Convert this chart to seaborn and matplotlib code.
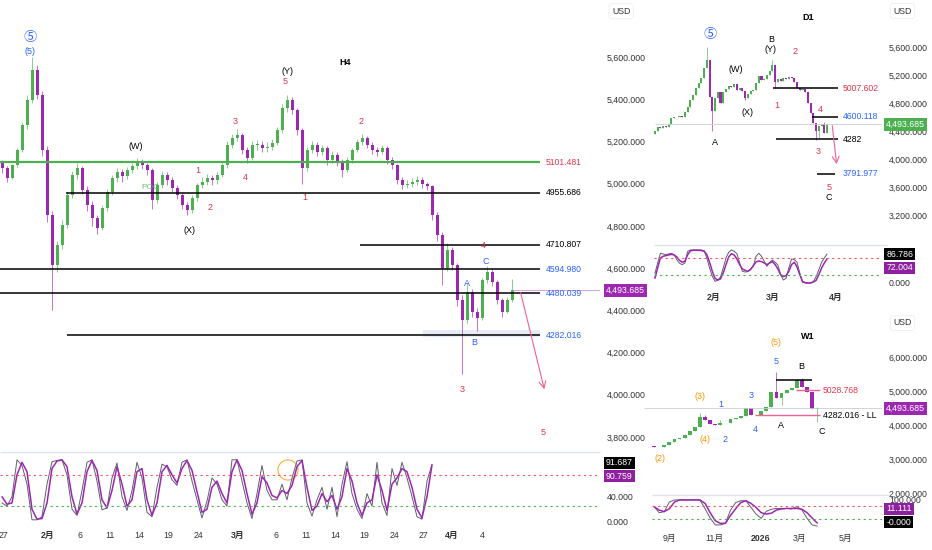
import numpy as np
import pandas as pd
import seaborn as sns
import matplotlib.pyplot as plt
from matplotlib.transforms import blended_transform_factory

# ---- H4 (main) ----
h4_close = [5074, 5027, 5088, 5159, 5278, 5396, 5538, 5420, 5159, 4852,
            4615, 4709, 4804, 4946, 5041, 5074, 4970, 4899, 4837, 4790,
            4885, 4960, 5027, 5055, 5036, 5065, 5084, 5098, 5088, 5065,
            4923, 4994, 5041, 5017, 4979, 4946, 4899, 4875, 4932, 4994,
            5008, 5027, 5017, 5041, 5088, 5183, 5216, 5230, 5159, 5122,
            5183, 5183, 5169, 5174, 5193, 5254, 5358, 5396, 5349, 5254,
            5074, 5159, 5183, 5150, 5169, 5112, 5136, 5103, 5065, 5112,
            5159, 5197, 5216, 5183, 5159, 5150, 5169, 5112, 5088, 5017,
            4994, 4998, 5008, 5017, 4998, 4989, 4852, 4757, 4600, 4686,
            4615, 4449, 4354, 4487, 4392, 4364, 4544, 4582, 4534, 4449,
            4392, 4449, 4493.685]
h4_high = [5110, 5085, 5095, 5170, 5290, 5420, 5600, 5560, 5440, 5180,
           4870, 4730, 4830, 4960, 5060, 5100, 5085, 4990, 4920, 4850,
           4900, 4975, 5040, 5075, 5070, 5080, 5100, 5120, 5115, 5100,
           5075, 5010, 5060, 5055, 5030, 4995, 4960, 4915, 4945, 5005,
           5030, 5045, 5040, 5055, 5100, 5200, 5235, 5260, 5240, 5175,
           5200, 5205, 5200, 5195, 5210, 5270, 5375, 5420, 5410, 5360,
           5265, 5175, 5200, 5195, 5185, 5180, 5155, 5150, 5115, 5125,
           5170, 5210, 5235, 5225, 5195, 5175, 5185, 5180, 5125, 5095,
           5030, 5015, 5025, 5035, 5030, 5010, 4995, 4865, 4770, 4720,
           4700, 4625, 4470, 4530, 4500, 4410, 4555, 4610, 4595, 4545,
           4460, 4465, 4550]
h4_low = [5050, 5010, 5020, 5080, 5150, 5260, 5380, 5400, 5130, 4820,
          4400, 4580, 4690, 4790, 4930, 5020, 4950, 4870, 4800, 4760,
          4780, 4870, 4945, 5010, 5010, 5020, 5050, 5070, 5070, 5040,
          4880, 4910, 4980, 4995, 4960, 4925, 4880, 4850, 4860, 4920,
          4980, 4995, 4995, 5000, 5030, 5075, 5170, 5200, 5140, 5100,
          5110, 5160, 5150, 5150, 5160, 5185, 5240, 5340, 5330, 5230,
          5000, 5060, 5145, 5130, 5135, 5090, 5100, 5085, 5030, 5055,
          5100, 5150, 5185, 5170, 5140, 5130, 5140, 5095, 5070, 5000,
          4975, 4980, 4985, 4995, 4980, 4970, 4830, 4730, 4520, 4585,
          4590, 4420, 4100, 4340, 4370, 4300, 4355, 4530, 4515, 4430,
          4370, 4385, 4440]
h4_open0 = 5100
h4_stoch_k = [30, 25, 40, 99, 90, 60, 3, 3, 8, 60, 96, 98, 99, 75, 20, 10, 50, 95, 99, 65,
              19, 22, 70, 94, 40, 18, 50, 95, 70, 15, 8, 55, 92, 88, 67, 58, 95, 99, 65, 35,
              6, 33, 70, 60, 35, 25, 99, 99, 65, 30, 5, 45, 90, 50, 35, 35, 60, 35, 70, 97,
              99, 30, 9, 35, 55, 20, 55, 8, 60, 96, 45, 20, 5, 45, 25, 95, 30, 10, 85, 58,
              95, 70, 40, 8, 4, 65, 91.687]
h4_stoch_d = [40, 28, 30, 75, 95, 80, 20, 4, 5, 30, 85, 97, 99, 88, 40, 12, 30, 80, 98, 82,
              35, 22, 50, 88, 60, 25, 35, 80, 85, 35, 10, 30, 80, 90, 75, 62, 85, 98, 82, 48,
              15, 20, 55, 65, 45, 30, 80, 99, 82, 45, 12, 30, 72, 62, 42, 38, 50, 45, 58, 88,
              98, 55, 18, 25, 45, 32, 42, 20, 40, 85, 65, 30, 10, 30, 35, 75, 50, 18, 60, 70,
              85, 80, 55, 20, 6, 40, 90.759]
h4_date_pos = [0.2, 9.2, 15.6, 21.6, 27.4, 33.2, 39.2, 47.2, 54.8, 60.8, 66.6, 72.4, 78.4, 84.2, 90, 96]
h4_date_lab = ["27", "2月", "6", "11", "14", "19", "24", "3月", "6", "11", "14", "19", "24", "27", "4月", "4"]
h4_levels = [5101.481, 4955.686, 4710.807, 4594.980, 4480.039, 4282.016]

# ---- D1 ----
d1_close = [4400, 4453, 4440, 4471, 4460, 4500, 4581, 4605, 4595, 4614,
            4595, 4676, 4748, 4843, 4914, 5010, 5081, 5152, 5295, 5420,
            4890, 4680, 4870, 4962, 4800, 4960, 4995, 5043, 5024, 5071,
            4986, 5010, 4976, 4867, 4929, 4976, 4986, 5081, 5186, 5129,
            5143, 5200, 5262, 5343, 5105, 5138, 5119, 5152, 5138, 5167,
            5152, 5105, 5010, 4986, 4995, 4962, 4796, 4652, 4510, 4400,
            4471, 4500, 4367, 4493.685]
d1_open0 = 4350
d1_wicks = {19: (5595, None), 21: (None, 4400), 33: (None, 4840), 43: (5420, None),
            44: (None, 5010), 59: (None, 4271), 60: (None, 4300), 62: (4530, None)}
d1_stoch_k = [29, 60, 89, 87, 85, 87, 89, 85, 70, 59, 55, 60, 95, 99, 99, 99, 99, 99, 97, 75,
              45, 20, 5, 8, 18, 45, 75, 92, 99, 95, 88, 60, 35, 33, 34, 42, 50, 80, 89, 80,
              65, 50, 62, 69, 62, 54, 25, 9, 14, 45, 72, 70, 62, 30, 2, 0, 0, 0, 5, 19,
              40, 62, 75, 86.786]
d1_stoch_d = [14, 45, 75, 80, 82, 84, 86, 84, 78, 68, 62, 66, 85, 96, 98, 98, 98, 97, 95, 85,
              62, 35, 14, 9, 12, 30, 55, 78, 88, 84, 72, 55, 42, 38, 35, 40, 52, 63, 66, 64,
              60, 55, 60, 64, 55, 42, 25, 19, 22, 35, 55, 62, 48, 25, 5, 1, 0, 0, 3, 8,
              25, 45, 60, 72.004]
d1_date_pos = [21.6, 43.2, 66.2]
d1_date_lab = ["2月", "3月", "4月"]

# ---- W1 ----
w1_close = [3344, 3353, 3412, 3510, 3590, 3627, 3706, 3824, 3951, 4226,
            4147, 4030, 4010, 4049, 4070, 4176, 4196, 4265, 4490, 4294,
            4300, 4420, 4540, 4980, 4784, 4931, 5029, 5078, 5330, 5127,
            4980, 4461, 4493.685]
w1_open0 = 3370
w1_wicks = {9: (4343, None), 10: (4290, None), 13: (4150, None), 20: (None, 4280),
            24: (5569, None), 25: (None, 4600), 29: (5373, None), 32: (4520, 4098)}
w1_stoch_k = [73, 50, 54, 90, 98, 98, 98, 98, 98, 98, 65, 30, 4, 4, 10, 60, 88, 95, 95, 70,
              45, 29, 55, 63, 66, 66, 66, 64, 73, 60, 29, 4, 0]
w1_stoch_d = [73, 60, 54, 65, 90, 98, 98, 98, 98, 98, 85, 50, 20, 10, 10, 40, 65, 88, 95, 85,
              70, 50, 45, 48, 60, 64, 66, 66, 66, 63, 50, 30, 11.111]
w1_date_pos = [3.1, 11.9, 20.9, 28.5, 37.5]
w1_date_lab = ["9月", "11月", "2026", "3月", "5月"]

UP, DOWN = "#4caf50", "#9c27b0"
RED, BLUE, ORANGE = "#e5334b", "#2962ff", "#ff9800"
K_COL, D_COL = "#5d606b", "#9c27b0"
TICK_FS = 6.3

sns.set_theme(style="white")
plt.rcParams["font.family"] = ["Liberation Sans", "Noto Sans CJK JP", "DejaVu Sans"]

W, H = 932, 550
fig = plt.figure(figsize=(W / 100, H / 100), dpi=100)


def box(l, t, r, b):
    return [l / W, 1 - b / H, (r - l) / W, (b - t) / H]


def draw_candles(ax, close, open0, width, high=None, low=None, wicks=None):
    df = pd.DataFrame({"c": close})
    df["o"] = [open0] + list(close[:-1])
    df["x"] = np.arange(len(df))
    top = df[["o", "c"]].max(axis=1)
    bot = df[["o", "c"]].min(axis=1)
    if high is None:
        high, low = top.copy(), bot.copy()
        for i, (hi, lo) in wicks.items():
            if hi is not None:
                high[i] = hi
            if lo is not None:
                low[i] = lo
    cols = np.where(df.c >= df.o, UP, DOWN)
    ax.vlines(df.x, low, high, colors=cols, linewidth=0.6, alpha=0.75)
    ax.bar(df.x, (top - bot).clip(lower=6), bottom=bot, width=width, color=cols, linewidth=0)


def style_axis(ax):
    for s in ax.spines.values():
        s.set_visible(False)
    ax.set_facecolor("none")
    ax.yaxis.tick_right()
    ax.tick_params(axis="y", length=0, pad=5, labelsize=TICK_FS, labelcolor="#333333")
    ax.tick_params(axis="x", length=0, labelsize=TICK_FS, labelcolor="#333333")


def price_fmt(vals):
    return [f"{v:,.3f}" for v in vals]


def value_tag(ax, yval, text, fc, xoff=1.01):
    tr = blended_transform_factory(ax.transAxes, ax.transData)
    ax.text(xoff, yval, text, transform=tr, fontsize=TICK_FS, color="white", va="center", ha="left",
            bbox=dict(boxstyle="square,pad=0.22", fc=fc, ec="none"), zorder=10)


def usd_tag(ax, x, y):
    ax.text(x, y, "USD", transform=ax.transAxes, fontsize=6.3, color="#333333", ha="left", va="center",
            bbox=dict(boxstyle="round,pad=0.35", fc="white", ec="#eeeeee", lw=0.6))


def stoch_panel(ax, k, d, lo, hi, x0, x1):
    x = np.arange(len(k))
    sns.lineplot(x=x, y=k, ax=ax, color=K_COL, linewidth=0.7)
    sns.lineplot(x=x, y=d, ax=ax, color=D_COL, linewidth=1.1)
    ax.hlines(75, x0, x1, color="#f7525f", lw=0.8, ls=(0, (2, 3)))
    ax.hlines(25, x0, x1, color="#4caf50", lw=0.8, ls=(0, (2, 3)))
    ax.hlines(hi, x0, x1, color="#e0e3eb", lw=1.0, clip_on=False)
    ax.set_ylim(lo, hi)


def label(ax, items, size=6.5):
    for t, x, y, c in items:
        fs = 9.5 if t == "⑤" else size
        fw = "bold" if t in ("H4", "D1", "W1") else "normal"
        ax.text(x, y, t, color=c, fontsize=fs, ha="center", va="center", fontweight=fw)


# ================= H4 main =================
ax = fig.add_axes(box(0, 0, 600, 450))
axs = fig.add_axes(box(0, 452, 600, 530), sharex=ax)
style_axis(ax)
style_axis(axs)
draw_candles(ax, h4_close, h4_open0, 0.6, high=h4_high, low=h4_low)
ax.set_xlim(-0.4, 119.6)
ax.set_ylim(3738, 5870)
ticks = list(range(3800, 5601, 200))
ax.set_yticks(ticks)
ax.set_yticklabels(price_fmt(ticks))
ax.tick_params(axis="x", labelbottom=False)

lvl_start = [-0.4, 12.8, 71.6, -0.4, -0.4, 13.0]
lvl_col = ["#4caf50", "black", "black", "black", "black", "black"]
lvl_txt = [RED, "black", "black", BLUE, BLUE, BLUE]
ax.axhspan(4274, 4307, xmin=(84.2 + 0.4) / 120, xmax=(107.6 + 0.4) / 120, color="#dbe4f5", alpha=0.7, lw=0)
for lv, x0, lc, tc in zip(h4_levels, lvl_start, lvl_col, lvl_txt):
    ax.hlines(lv, x0, 107.6, color=lc, lw=1.6 if lc != "black" else 1.1)
    ax.text(108.8, lv, f"{lv:.3f}", color=tc, fontsize=6.2, va="center", ha="left")
ax.hlines(h4_close[-1], len(h4_close) - 1, 121, color="#ce93d8", lw=0.6)
ax.annotate("", xy=(108.6, 4013), xytext=(103.6, 4496),
            arrowprops=dict(arrowstyle="->", color="#f06292", lw=0.8))
label(ax, [("⑤", 5.6, 5690, BLUE), ("(5)", 5.6, 5624, BLUE), ("(W)", 26.8, 5178, "black"),
           ("(X)", 37.6, 4776, "black"), ("(Y)", 57, 5529, "black"), ("5", 56.6, 5486, RED),
           ("1", 39.2, 5060, RED), ("2", 41.6, 4889, RED), ("3", 46.6, 5292, RED),
           ("4", 48.6, 5027, RED), ("1", 60.6, 4932, RED), ("2", 71.8, 5292, RED),
           ("4", 96.2, 4709, RED), ("3", 92, 4027, RED), ("5", 108.2, 3819, RED),
           ("H4", 68.6, 5572, "black"), ("A", 93, 4529, BLUE), ("B", 94.4, 4245, BLUE),
           ("C", 96.8, 4629, BLUE)])
ax.text(29.6, 4984, "POC", color="#4caf50", fontsize=6, ha="center", va="center", alpha=0.8, zorder=5)
value_tag(ax, h4_close[-1], f"{h4_close[-1]:,.3f}", "#9c27b0")
usd_tag(ax, 1.02, 0.975)

stoch_panel(axs, h4_stoch_k, h4_stoch_d, -13.3, 111.5, -0.4, 119.6)
axs.scatter([57.2], [82.7], s=210, facecolors="none", edgecolors="#f5b041", linewidths=0.8)
axs.set_yticks([0, 40])
axs.set_yticklabels(["0.000", "40.000"])
axs.set_xticks(h4_date_pos)
axs.set_xticklabels(h4_date_lab)
axs.tick_params(axis="x", pad=1)
for t in axs.get_xticklabels():
    if "月" in t.get_text():
        t.set_fontweight("bold")
value_tag(axs, 94, f"{h4_stoch_k[-1]:.3f}", "black")
value_tag(axs, 73, f"{h4_stoch_d[-1]:.3f}", "#8e1f9e")

# ================= D1 =================
ad = fig.add_axes(box(600, 0, 882, 245))
ads = fig.add_axes(box(600, 245, 882, 290), sharex=ad)
style_axis(ad)
style_axis(ads)
draw_candles(ad, d1_close, d1_open0, 0.75, wicks=d1_wicks)
ad.set_xlim(-20.1, 83.1)
ad.set_ylim(2771, 6271)
dt = list(range(3200, 5601, 400))
ad.set_yticks(dt)
ad.set_yticklabels(price_fmt(dt))
ad.tick_params(axis="x", labelbottom=False)
ad.hlines(d1_close[-1], 0, 85, color="#cccccc", lw=0.6)
ad.hlines(5007.602, 43.2, 67, color="black", lw=1.1)
ad.hlines(4600.118, 57.4, 67, color="black", lw=1.1)
ad.hlines(4282, 44.3, 67, color="black", lw=1.1)
ad.hlines(3791.977, 59.3, 65.9, color="black", lw=1.1)
for v, t, c in [(5007.602, "5007.602", RED), (4600.118, "4600.118", BLUE),
                (4282, "4282", "black"), (3791.977, "3791.977", BLUE)]:
    ad.text(68.8, v, t, color=c, fontsize=6.2, va="center", ha="left")
ad.annotate("", xy=(66.6, 3886), xytext=(64.8, 4514),
            arrowprops=dict(arrowstyle="->", color="#f06292", lw=0.8))
label(ad, [("⑤", 20.1, 5771, BLUE), ("A", 22, 4229, "black"), ("(W)", 29.6, 5271, "black"),
           ("(X)", 33.7, 4657, "black"), ("B", 42.4, 5700, "black"), ("(Y)", 42.4, 5557, "black"),
           ("2", 51.2, 5529, RED), ("1", 44.6, 4757, RED), ("4", 60.7, 4700, RED),
           ("3", 59.6, 4100, RED), ("5", 63.7, 3586, RED), ("C", 63.7, 3443, "black"),
           ("D1", 56, 6014, "black")])
value_tag(ad, d1_close[-1], f"{d1_close[-1]:,.3f}", "#4caf50", xoff=1.015)
usd_tag(ad, 1.04, 0.955)

stoch_panel(ads, d1_stoch_k, d1_stoch_d, -21, 113.8, -0.5, 85)
ads.set_yticks([0])
ads.set_yticklabels(["0.000"])
ads.set_xticks(d1_date_pos)
ads.set_xticklabels(d1_date_lab, fontweight="bold")
ads.tick_params(axis="x", pad=2)
value_tag(ads, 86.8, f"{d1_stoch_k[-1]:.3f}", "black", xoff=1.015)
value_tag(ads, 45, f"{d1_stoch_d[-1]:.3f}", "#8e1f9e", xoff=1.015)

# ================= W1 =================
aw = fig.add_axes(box(600, 310, 882, 495))
aws = fig.add_axes(box(600, 495, 882, 530), sharex=aw)
style_axis(aw)
style_axis(aws)
draw_candles(aw, w1_close, w1_open0, 0.75, wicks=w1_wicks)
aw.set_xlim(-10.6, 44.7)
aw.set_ylim(1941, 7382)
wt = list(range(2000, 6001, 1000))
aw.set_yticks(wt)
aw.set_yticklabels(price_fmt(wt))
aw.tick_params(axis="x", labelbottom=False)
aw.hlines(w1_close[-1], -2, 46, color="#cccccc", lw=0.6)
aw.hlines(5324, 23.9, 30.9, color="black", lw=1.1)
aw.hlines(5028.768, 27.9, 32.5, color="#f06292", lw=1.0)
aw.hlines(4282.016, 19.7, 32.5, color="#f06292", lw=1.0)
aw.text(33.1, 5028.768, "5028.768", color=RED, fontsize=6.2, va="center", ha="left")
aw.text(33.1, 4282.016, "4282.016 - LL", color="black", fontsize=6.2, va="center", ha="left")
label(aw, [("W1", 30.1, 6588, "black"), ("(5)", 23.9, 6412, ORANGE), ("5", 23.9, 5853, BLUE),
           ("B", 28.9, 5706, "black"), ("(3)", 9, 4824, ORANGE), ("1", 13.1, 4588, BLUE),
           ("3", 19, 4882, BLUE), ("(4)", 9.9, 3559, ORANGE), ("2", 14, 3588, BLUE),
           ("4", 19.9, 3882, BLUE), ("A", 24.8, 3971, "black"), ("C", 32.9, 3794, "black"),
           ("(2)", 1.1, 3029, ORANGE)])
value_tag(aw, w1_close[-1], f"{w1_close[-1]:,.3f}", "#9c27b0", xoff=1.015)
usd_tag(aw, 1.04, 0.93)

stoch_panel(aws, w1_stoch_k, w1_stoch_d, -15, 116.5, -0.5, 46)
aws.set_yticks([100])
aws.set_yticklabels(["100.000"])
aws.set_xticks(w1_date_pos)
aws.set_xticklabels(w1_date_lab)
aws.tick_params(axis="x", pad=3)
for t in aws.get_xticklabels():
    if t.get_text() == "2026":
        t.set_fontweight("bold")
value_tag(aws, 64, f"{w1_stoch_d[-1]:.3f}", "#8e1f9e", xoff=1.015)
value_tag(aws, 15, f"-{w1_stoch_k[-1]:.3f}", "black", xoff=1.015)

fig.savefig("out.png", dpi=100)
